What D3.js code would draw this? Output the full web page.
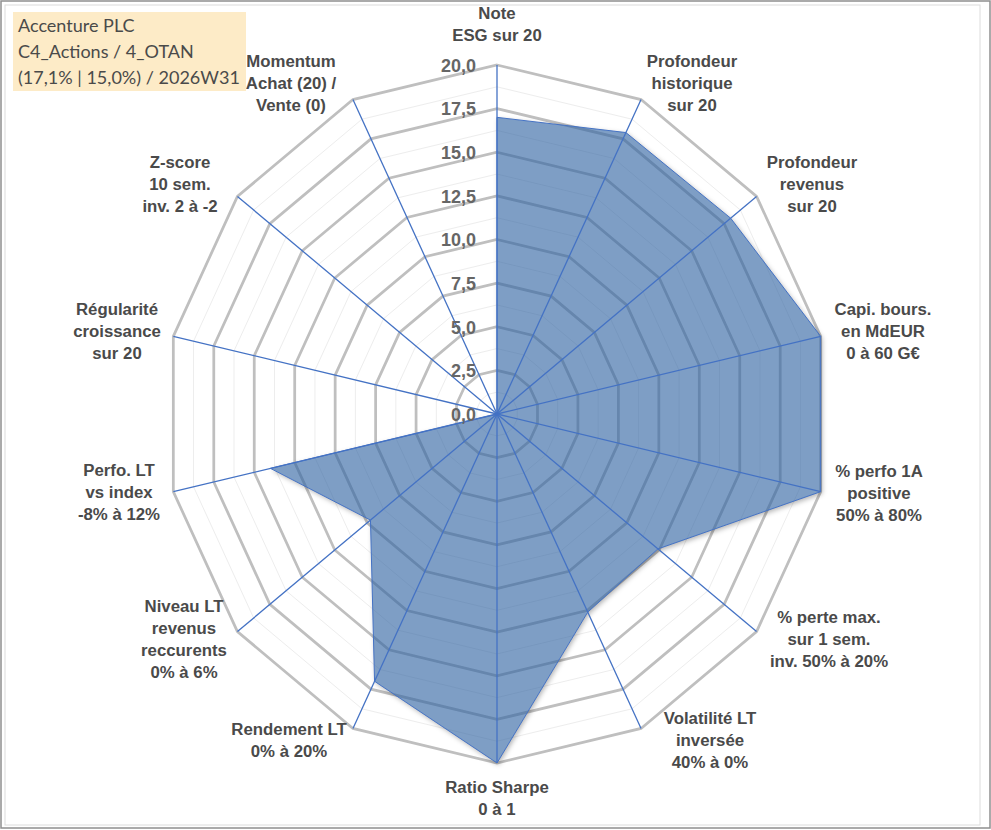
<!DOCTYPE html>
<html><head><meta charset="utf-8">
<script src="https://cdn.jsdelivr.net/npm/d3@7"></script>
<style>
html,body{margin:0;padding:0;background:#fff;}
svg{display:block;}
.lab{font-family:"Liberation Sans", Arial, Helvetica, sans-serif;font-weight:700;}
.ttl{font-family:Lato, "Open Sans", sans-serif;}
</style></head>
<body>
<svg id="chart" width="991" height="830"></svg>
<script>
// ---- data ----
const categories = [
  ["Note","ESG sur 20"],
  ["Profondeur","historique","sur 20"],
  ["Profondeur","revenus","sur 20"],
  ["Capi. bours.","en MdEUR","0 à 60 G€"],
  ["% perfo 1A","positive","50% à 80%"],
  ["% perte max.","sur 1 sem.","inv. 50% à 20%"],
  ["Volatilité LT","inversée","40% à 0%"],
  ["Ratio Sharpe","0 à 1"],
  ["Rendement LT","0% à 20%"],
  ["Niveau LT","revenus","reccurents","0% à 6%"],
  ["Perfo. LT","vs index","-8% à 12%"],
  ["Régularité","croissance","sur 20"],
  ["Z-score","10 sem.","inv. 2 à -2"],
  ["Momentum","Achat (20) /","Vente (0)"]
];
const values = [17.0, 17.9, 18.0, 20, 20, 12.4, 12.6, 20, 17.0, 9.75, 14.0, 0, 0, 0];
const majorTicks = [0, 2.5, 5, 7.5, 10, 12.5, 15, 17.5, 20];
const minorTicks = [1.25, 3.75, 6.25, 8.75, 11.25, 13.75, 16.25, 18.75];
const tickLabels = ["0,0","2,5","5,0","7,5","10,0","12,5","15,0","17,5","20,0"];
const titleLines = ["Accenture PLC","C4_Actions / 4_OTAN","(17,1% | 15,0%) / 2026W31"];

// ---- layout ----
const W = 991, H = 830;
const cx = 497, cy = 414, rx = 332, ry = 349;
const labelPos = [ // [x, first-line y] for category labels
  [497,15],[692,63],[812,164],[883,311],[879,473],[829,619],[710,720],
  [497,789],[289,731],[184,608],[119,472],[117,311],[180,164],[291,63]
];
const lineH = 22;

const svg = d3.select("#chart");
const n = categories.length;
const rScale = d3.scaleLinear().domain([0, 20]).range([0, 1]);
const aScale = d3.scaleLinear().domain([0, n]).range([0, 2 * Math.PI]);
const pt = (i, v) => [cx + rx * rScale(v) * Math.sin(aScale(i)), cy - ry * rScale(v) * Math.cos(aScale(i))];
const line = d3.line().curve(d3.curveLinearClosed);
const seriesPath = line(values.map((v, i) => pt(i, v)));

// frame
svg.append("rect").attr("x",1).attr("y",1).attr("width",989).attr("height",827)
  .attr("fill","#fff").attr("stroke","#8f8f8f").attr("stroke-width",1.5);
svg.append("rect").attr("x",5).attr("y",5).attr("width",975).attr("height",820)
  .attr("fill","none").attr("stroke","#dcdcdc").attr("stroke-width",1);

const defs = svg.append("defs");
const f = defs.append("filter").attr("id","blur").attr("x","-10%").attr("y","-10%").attr("width","120%").attr("height","120%");
f.append("feGaussianBlur").attr("stdDeviation",2.5);
const mask = defs.append("mask").attr("id","outside").attr("maskUnits","userSpaceOnUse")
  .attr("x",0).attr("y",0).attr("width",W).attr("height",H);
mask.append("rect").attr("width",W).attr("height",H).attr("fill","#fff");
mask.append("path").attr("d",seriesPath).attr("fill","#000");

// minor grid
svg.append("g").selectAll("path").data(minorTicks).join("path")
  .attr("d", t => line(d3.range(n).map(i => pt(i, t))))
  .attr("fill","none").attr("stroke","#ededed").attr("stroke-width",1);
// major grid
svg.append("g").selectAll("path").data(majorTicks.filter(t => t > 0)).join("path")
  .attr("d", t => line(d3.range(n).map(i => pt(i, t))))
  .attr("fill","none").attr("stroke","#bfbfbf").attr("stroke-width",2.75)
  .attr("stroke-linejoin","miter");

// series shadow (outside the shape only)
svg.append("g").attr("mask","url(#outside)")
  .append("path").attr("d", seriesPath).attr("transform","translate(1.5,2)")
  .attr("fill","#000").attr("fill-opacity",0.3).attr("filter","url(#blur)");
// series
svg.append("path")
  .attr("d", seriesPath)
  .attr("fill","#2f62a2").attr("fill-opacity",0.62)
  .attr("stroke","#4472c4").attr("stroke-width",1);

// axis lines
svg.append("g").selectAll("line").data(d3.range(n)).join("line")
  .attr("x1",cx).attr("y1",cy)
  .attr("x2", i => pt(i, 20)[0]).attr("y2", i => pt(i, 20)[1])
  .attr("stroke","#4472c4").attr("stroke-width",1.3);

// tick labels
svg.append("g").attr("class","lab").selectAll("text").data(majorTicks).join("text")
  .attr("x", 476).attr("y", t => pt(0, t)[1] + 2)
  .attr("text-anchor","end").attr("dominant-baseline","middle")
  .attr("font-size",18).attr("fill","#666")
  .text((t, k) => tickLabels[k]);

// category labels
const cg = svg.append("g").attr("class","lab").attr("font-size",16.8).attr("fill","#4a4a4a");
categories.forEach((lines, i) => {
  const t = cg.append("text").attr("text-anchor","middle");
  lines.forEach((s, k) => {
    t.append("tspan").attr("x", labelPos[i][0]).attr("y", labelPos[i][1] + k * lineH)
      .attr("dominant-baseline","middle").text(s);
  });
});

// title box
svg.append("rect").attr("x",13).attr("y",12).attr("width",233).attr("height",79).attr("fill","#fdebc7");
const tt = svg.append("g").attr("class","ttl").attr("fill","#4a4a4a");
const tNodes = titleLines.map((s, k) => tt.append("text").attr("x",18).attr("y",27 + k*26)
  .attr("dominant-baseline","middle").attr("font-size",20).text(s));
const wLong = tNodes[2].node().getComputedTextLength();
const fs = 20 * 222 / wLong;
tNodes.forEach(nd => nd.attr("font-size", fs));
</script>
</body></html>
